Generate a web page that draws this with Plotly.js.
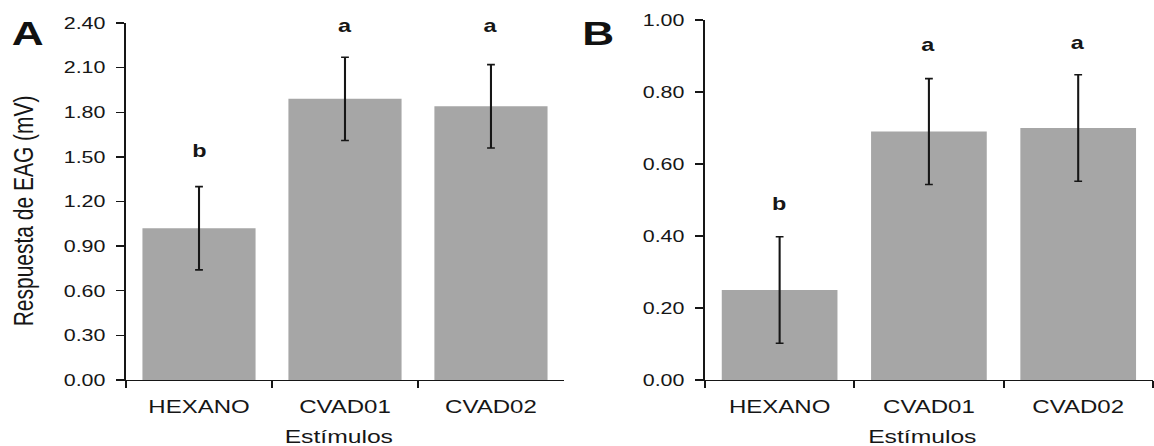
<!DOCTYPE html>
<html>
<head>
<meta charset="utf-8">
<script src="https://cdn.plot.ly/plotly-3.0.1.min.js"></script>
<style>
html,body{margin:0;padding:0;background:#fff;overflow:hidden;}
#wrap{width:1154px;height:446px;overflow:hidden;}
#chart{width:888px;height:446px;transform:scaleX(1.29955);transform-origin:0 0;}
</style>
</head>
<body>
<div id="wrap"><div id="chart"></div></div>
<script>
// ---- data ----
const categories = ['HEXANO', 'CVAD01', 'CVAD02'];
const meansA = [1.02, 1.89, 1.84];
const errA = [0.28, 0.28, 0.28];
const meansB = [0.25, 0.69, 0.70];
const errB = [0.148, 0.147, 0.148];
const lettersA = ['b', 'a', 'a'];
const lettersB = ['b', 'a', 'a'];
const letterYA = [1.54, 2.38, 2.38];
const letterYB = [0.49, 0.93, 0.935];
const tickValsA = [0, 0.3, 0.6, 0.9, 1.2, 1.5, 1.8, 2.1, 2.4];
const tickValsB = [0, 0.2, 0.4, 0.6, 0.8, 1.0];
const yTitle = 'Respuesta de EAG (mV)';
const xTitle = 'Estímulos';
const panelLabels = ['A', 'B'];

// ---- styles ----
const FONT = '"Liberation Sans", Arial, sans-serif';
const INK = '#161616';
const BAR = '#a6a6a6';

function barTrace(y, e, xa, ya) {
  return {
    type: 'bar', x: categories, y: y, xaxis: xa, yaxis: ya,
    marker: {color: BAR, line: {width: 0}},
    error_y: {type: 'data', array: e, visible: true, color: INK, thickness: 1.6, width: 3},
    hoverinfo: 'skip', showlegend: false
  };
}

function xAxis(domain, anchor) {
  return {
    domain: domain, anchor: anchor, type: 'category', range: [-0.5, 2.5],
    showline: true, linecolor: INK, linewidth: 1.5, mirror: false,
    ticks: 'outside', tickson: 'boundaries', ticklen: 7, tickwidth: 1.5, tickcolor: INK,
    ticklabelstandoff: 9,
    showgrid: false, zeroline: false, fixedrange: true,
    tickfont: {family: FONT, size: 18.5, color: INK}
  };
}
function yAxis(domain, anchor, range, vals) {
  return {
    domain: domain, anchor: anchor, range: range, tickvals: vals, tickformat: '.2f',
    showline: true, linecolor: INK, linewidth: 1.5,
    ticks: 'outside', ticklen: 6, tickwidth: 1.5, tickcolor: INK,
    ticklabelstandoff: 5,
    showgrid: false, zeroline: false, fixedrange: true,
    tickfont: {family: FONT, size: 16.5, color: INK}
  };
}

const annotations = [];
categories.forEach((c, i) => {
  annotations.push({xref: 'x', yref: 'y', x: c, y: letterYA[i], text: lettersA[i], showarrow: false,
    yanchor: 'middle', font: {family: FONT, size: 18, color: INK, weight: 'bold'}});
  annotations.push({xref: 'x2', yref: 'y2', x: c, y: letterYB[i], text: lettersB[i], showarrow: false,
    yanchor: 'middle', font: {family: FONT, size: 18, color: INK, weight: 'bold'}});
});
annotations.push({xref: 'paper', yref: 'paper', x: 0.0238, y: 0.927, text: panelLabels[0], showarrow: false,
  xanchor: 'center', yanchor: 'middle', font: {family: FONT, size: 34, color: '#111', weight: 'bold'}});
annotations.push({xref: 'paper', yref: 'paper', x: 0.519, y: 0.927, text: panelLabels[1], showarrow: false,
  xanchor: 'center', yanchor: 'middle', font: {family: FONT, size: 34, color: '#111', weight: 'bold'}});
annotations.push({xref: 'paper', yref: 'paper', x: 0.2938, y: 0.0224, text: xTitle, showarrow: false,
  xanchor: 'center', yanchor: 'middle', font: {family: FONT, size: 19, color: INK}});
annotations.push({xref: 'paper', yref: 'paper', x: 0.799, y: 0.0224, text: xTitle, showarrow: false,
  xanchor: 'center', yanchor: 'middle', font: {family: FONT, size: 19, color: INK}});
annotations.push({xref: 'paper', yref: 'paper', x: 0.0208, y: 0.527, text: yTitle, showarrow: false,
  textangle: -90, xanchor: 'center', yanchor: 'middle', font: {family: FONT, size: 21, color: INK}});

const layout = {
  width: 888, height: 446,
  margin: {l: 0, r: 0, t: 0, b: 0, pad: 0},
  paper_bgcolor: '#fff', plot_bgcolor: '#fff',
  bargap: 0.225,
  showlegend: false,
  xaxis: xAxis([0.1092, 0.4887], 'y'),
  yaxis: yAxis([0.148, 0.9484], 'x', [0, 2.4], tickValsA),
  xaxis2: xAxis([0.6109, 0.999], 'y2'),
  yaxis2: yAxis([0.148, 0.9552], 'x2', [0, 1.0], tickValsB),
  annotations: annotations
};

Plotly.newPlot('chart', [barTrace(meansA, errA, 'x', 'y'), barTrace(meansB, errB, 'x2', 'y2')], layout,
  {displayModeBar: false, staticPlot: true});
</script>
</body>
</html>
